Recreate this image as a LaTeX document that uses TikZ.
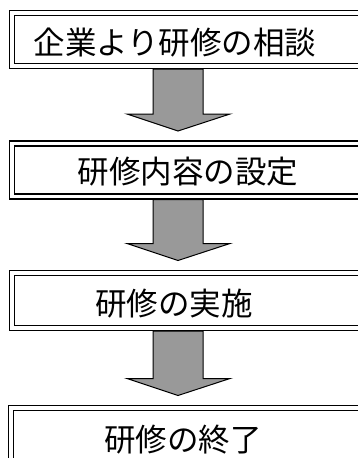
\documentclass[tikz,border=0pt]{standalone}
\usepackage{fontspec}
\newfontfamily\jpfont{Noto Sans CJK JP}
\usepackage{tikz}
\usetikzlibrary{calc,positioning}
\tikzset{
  framenode/.style = {draw, double, line width=1.3pt, double distance=3.6pt, minimum width=360pt,
  inner sep=0pt, outer sep=0pt, fill=white},
  frame_n/.style = {framenode, minimum height=53pt},
  frame_l/.style = {framenode, minimum height=55pt},
  labelnode/.style = {inner sep=0pt, font=\jpfont\fontsize{31.5}{33}\selectfont},
  label_s/.style = {labelnode, font=\jpfont\fontsize{31.5}{33}\selectfont}
}
\definecolor{arrow_gray}{gray}{0.6}

\begin{document}
\begin{tikzpicture}[x=1pt, y=1pt,
        blockarrow/.style={draw=black, line width=1pt, fill=arrow_gray, line join=miter}]
    \useasboundingbox (0,0) rectangle (358,-458);
    \clip (0,0) rectangle (358,-458);
    \coordinate (ax) at (178,0);
    % the four steps
    \node [frame_n] (b1) at (192,-39.5) {};
    \node [frame_n] (b2) at (192,-170) {};
    \node [frame_l] (b3) at (192,-300.5) {};
    \node [frame_n] (b4) at (191,-434.5) {};
    \node [label_s] (t1) at ($(b1)+(-17,-3)$) {企業より研修の相談};
    \node [labelnode] (t2) at ($(b2)+(-4,-2)$) {研修内容の設定};
    \node [labelnode] (t3) at ($(b3)+(-18,-3.5)$) {研修の実施};
    \node [labelnode] (t4) at ($(b4)+(-8,-5.5)$) {研修の終了};
    % block arrows between them
    \foreach \a/\b in {b1/b2,b2/b3,b3/b4}{
        \coordinate (top) at ($(\a.south -| ax)+(0,-3.2)$);
        \coordinate (tip) at ($(\b.north -| ax)+(0,12.5)$);
        \draw[blockarrow] ($(top)+(-25,0)$) -- ($(tip)+(-25,17)$) -- ($(tip)+(-51,17)$) -- (tip)
            -- ($(tip)+(52,17)$) -- ($(tip)+(25,17)$) -- ($(top)+(25,0)$) -- cycle;
    }
\end{tikzpicture}
\end{document}
